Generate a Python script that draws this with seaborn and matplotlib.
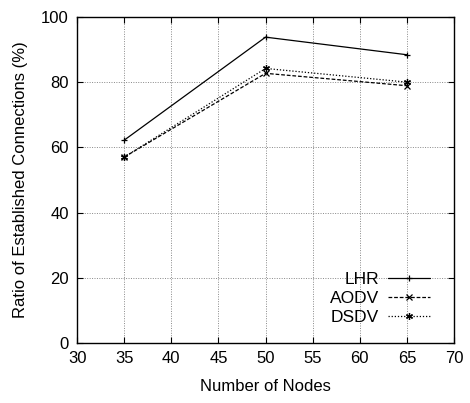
import pandas as pd
import matplotlib
matplotlib.use('Agg')
import matplotlib.pyplot as plt
import seaborn as sns

# Dados
nodes = [35, 50, 65]
lhr = [62.2, 93.8, 88.4]
aodv = [57.0, 82.7, 78.9]
dsdv = [57.0, 84.2, 80.0]
protocols = ['LHR', 'AODV', 'DSDV']

df = pd.DataFrame({
    'nodes': nodes * 3,
    'ratio': lhr + aodv + dsdv,
    'protocol': [p for p in protocols for _ in nodes],
})

sns.set_style('ticks')
plt.rcParams['font.family'] = ['Liberation Sans', 'DejaVu Sans']
plt.rcParams['text.color'] = 'black'
plt.rcParams['axes.labelcolor'] = 'black'
plt.rcParams['xtick.color'] = 'black'
plt.rcParams['ytick.color'] = 'black'

fig = plt.figure(figsize=(4.7, 4.03), dpi=100)
ax = fig.add_axes([0.164, 0.149, 0.802, 0.809])

sns.lineplot(data=df, x='nodes', y='ratio', hue='protocol', style='protocol',
             palette=['black'] * 3,
             dashes={'LHR': '', 'AODV': (3, 1.5), 'DSDV': (1, 1.5)},
             markers={'LHR': '+', 'AODV': 'x', 'DSDV': (6, 2, 0)},
             markersize=5, markeredgewidth=0.9, markeredgecolor='black',
             linewidth=0.9, ax=ax)

ax.set_xlim(30, 70)
ax.set_ylim(0, 100)
ax.set_xticks(range(30, 71, 5))
ax.set_yticks(range(0, 101, 20))
ax.grid(True, color='#888888', linestyle=(0, (1, 1.5)), linewidth=0.7)
ax.tick_params(direction='in', top=True, right=True, labelsize=12, length=4, pad=6)
for s in ax.spines.values():
    s.set_linewidth(1.0)
    s.set_color('black')

ax.set_xlabel('Number of Nodes', fontsize=12, labelpad=9)
ax.set_ylabel('Ratio of Established Connections (%)', fontsize=12, labelpad=9)

handles, labels = ax.get_legend_handles_labels()
leg = ax.legend(handles, labels, loc='lower right', bbox_to_anchor=(0.978, 0.008),
                frameon=False, markerfirst=False, fontsize=12.5, handlelength=2.4,
                handletextpad=0.55, labelspacing=0.2, borderaxespad=0.5)
for t in leg.get_texts():
    t.set_ha('right')
leg._legend_box.align = 'right'
for h in leg.legend_handles:
    h.set_markeredgecolor('black')

fig.savefig('out.png', dpi=100)
